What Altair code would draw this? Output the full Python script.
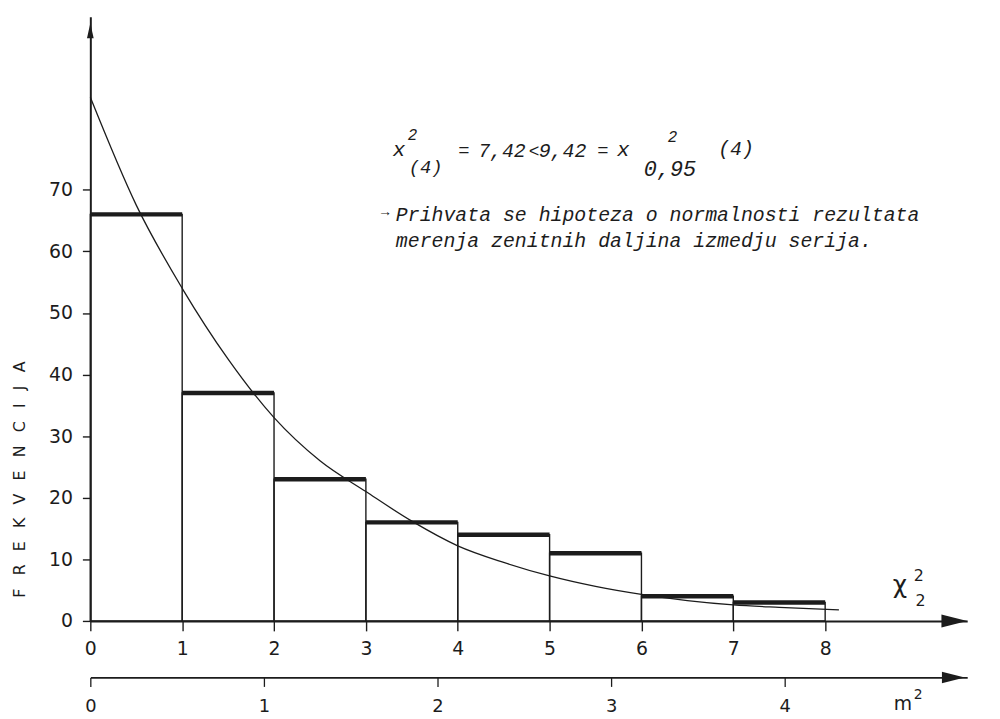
import altair as alt
import pandas as pd

# ---------------- data ----------------
bin_left = [0, 1, 2, 3, 4, 5, 6, 7]
bin_right = [1, 2, 3, 4, 5, 6, 7, 8]
freq = [66, 37, 23, 16, 14, 11, 4, 3]

curve_x = [0, 0.5, 1, 1.5, 2, 2.5, 3, 3.5, 4, 4.5, 5, 5.5, 6, 6.5, 7, 7.5, 8.15]
curve_y = [85, 67.5, 54, 42.5, 33, 26, 21, 16.2, 12.2, 9.5, 7.3, 5.6, 4.3, 3.3, 2.6, 2.2, 1.8]

x_ticks = [0, 1, 2, 3, 4, 5, 6, 7, 8]
y_ticks = [0, 10, 20, 30, 40, 50, 60, 70]
m2_ticks = [0, 1, 2, 3, 4]

# ---------------- layout ----------------
PX_X = 92.6            # pixels per chi^2 unit
PX_Y = 6.21            # pixels per frequency unit
PX_M = 175.0           # pixels per m^2 unit
W, H = 884, 609
X_MAX = W / PX_X
Y_MAX = H / PX_Y
M2_MAX = W / PX_M
M2_OFFSET = 57
OX, OY = 91, 14        # page position of the plot area's top-left corner
INK = "#1c1c1c"
SANS = "DejaVu Sans"
MONO = "Liberation Mono"

hist = pd.DataFrame({"x0": bin_left, "x1": bin_right, "f": freq})
curve = pd.DataFrame({"x": curve_x, "y": curve_y})
one = pd.DataFrame({"k": [0]})

xs = alt.Scale(domain=[0, X_MAX], nice=False, zero=False)
ys = alt.Scale(domain=[0, Y_MAX], nice=False, zero=False)

SP = "\u2002\u2004"
x_axis = alt.Axis(values=x_ticks, format="d", tickSize=10, labelPadding=9, grid=False,
                  domainWidth=2, domainColor=INK, tickColor=INK, tickWidth=1.4,
                  labelFont=SANS, labelFontSize=19, labelColor=INK, title=None,
                  labelOverlap=False, labelFlush=False)
y_axis = alt.Axis(values=y_ticks, format="d", tickSize=8, labelPadding=10, grid=False,
                  domainWidth=2, domainColor=INK, tickColor=INK, tickWidth=1.4,
                  labelFont=SANS, labelFontSize=19, labelColor=INK,
                  title=SP.join("FREKVENCIJA"),
                  titleFont=SANS, titleFontSize=16, titleFontWeight="normal",
                  titleColor=INK, titleAngle=270, titleX=20 - OX, titleY=480 - OY,
                  titleAlign="center", titleBaseline="middle", labelOverlap=False)

rects = alt.Chart(hist).mark_rect(fill=None, fillOpacity=0, stroke=INK, strokeWidth=1.4).encode(
    x=alt.X("x0:Q", scale=xs, axis=x_axis),
    x2="x1:Q",
    y=alt.Y("f:Q", scale=ys, axis=y_axis),
    y2=alt.datum(0),
)
tops = alt.Chart(hist).mark_rule(color=INK, strokeWidth=4.5).encode(
    x=alt.X("x0:Q", scale=xs), x2="x1:Q", y=alt.Y("f:Q", scale=ys)
)
line = alt.Chart(curve).mark_line(color=INK, strokeWidth=1.3, interpolate="monotone").encode(
    x=alt.X("x:Q", scale=xs), y=alt.Y("y:Q", scale=ys)
)

ARROW_R = "M-1,-0.5L1,0L-1,0.5Z"
ARROW_U = "M-0.45,1L0,-1L0.45,1Z"
arrow_x = alt.Chart(one).mark_point(shape=ARROW_R, filled=True, size=676, color=INK, opacity=1).encode(
    x=alt.X("ax:Q", scale=xs), y=alt.Y("ay:Q", scale=ys)
).transform_calculate(ax=str(X_MAX - 13 / PX_X), ay="0")
arrow_y = alt.Chart(one).mark_point(shape=ARROW_U, filled=True, size=225, color=INK, opacity=1).encode(
    x=alt.X("ax:Q", scale=xs), y=alt.Y("ay:Q", scale=ys)
).transform_calculate(ax="0", ay=str((OY + H - 28) / PX_Y))

main = alt.layer(rects, tops, line, arrow_x, arrow_y)

m2_axis = alt.Axis(values=m2_ticks, format="d", orient="bottom", offset=M2_OFFSET, tickSize=9,
                   labelPadding=11, grid=False, domainWidth=1.8, domainColor=INK,
                   tickColor=INK, tickWidth=1.3, labelFont=SANS, labelFontSize=18,
                   labelColor=INK, title=None, labelOverlap=False, labelFlush=False)
m2 = alt.Chart(one).mark_point(shape=ARROW_R, filled=True, size=529, color=INK, opacity=1).encode(
    x=alt.X("mx:Q", scale=alt.Scale(domain=[0, M2_MAX], nice=False, zero=False), axis=m2_axis),
    y=alt.value(H + M2_OFFSET),
).transform_calculate(mx=str(M2_MAX - 14 / PX_M))


def txt(s, px, py, size, font=MONO, italic=True, align="left"):
    return alt.Chart(one).mark_text(
        text=s, font=font, fontSize=size, fontStyle="italic" if italic else "normal",
        align=align, baseline="alphabetic", color=INK
    ).encode(x=alt.value(px - OX), y=alt.value(py - OY))


notes = [
    txt("x", 396, 154, 21),
    txt("2", 411, 138, 16),
    txt("(4)", 412, 171, 19),
    txt("=", 462, 154, 19),
    txt("7,42", 482, 155, 20),
    txt("<", 533, 155, 18),
    txt("9,42", 543, 155, 20),
    txt("=", 602, 154, 19),
    txt("x", 622, 154, 21),
    txt("2", 673, 140, 16),
    txt("0,95", 649, 174, 22),
    txt("(4)", 724, 153, 20),
    txt("\u2192", 384, 215, 14),
    txt("Prihvata se hipoteza o normalnosti rezultata", 399, 220, 20),
    txt("merenja zenitnih daljina izmedju serija.", 399, 246, 20),
    txt("\u03c7", 900, 595, 25, font=SANS, italic=False),
    txt("2", 921, 583, 16, font=SANS, italic=False),
    txt("2", 923, 608, 16, font=SANS, italic=False),
    txt("m", 901, 713, 19, font=SANS, italic=False),
    txt("2", 921, 702, 14, font=SANS, italic=False),
]

chart = alt.layer(main, m2, *notes).resolve_scale(x="independent").properties(
    width=W, height=H,
    padding={"left": OX - 8, "top": OY - 8, "right": 25, "bottom": 104},
    autosize=alt.AutoSizeParams(type="none"),
    background="white",
).configure_view(stroke=None)

chart.save("out.html", embed_options={"renderer": "svg", "actions": False})
